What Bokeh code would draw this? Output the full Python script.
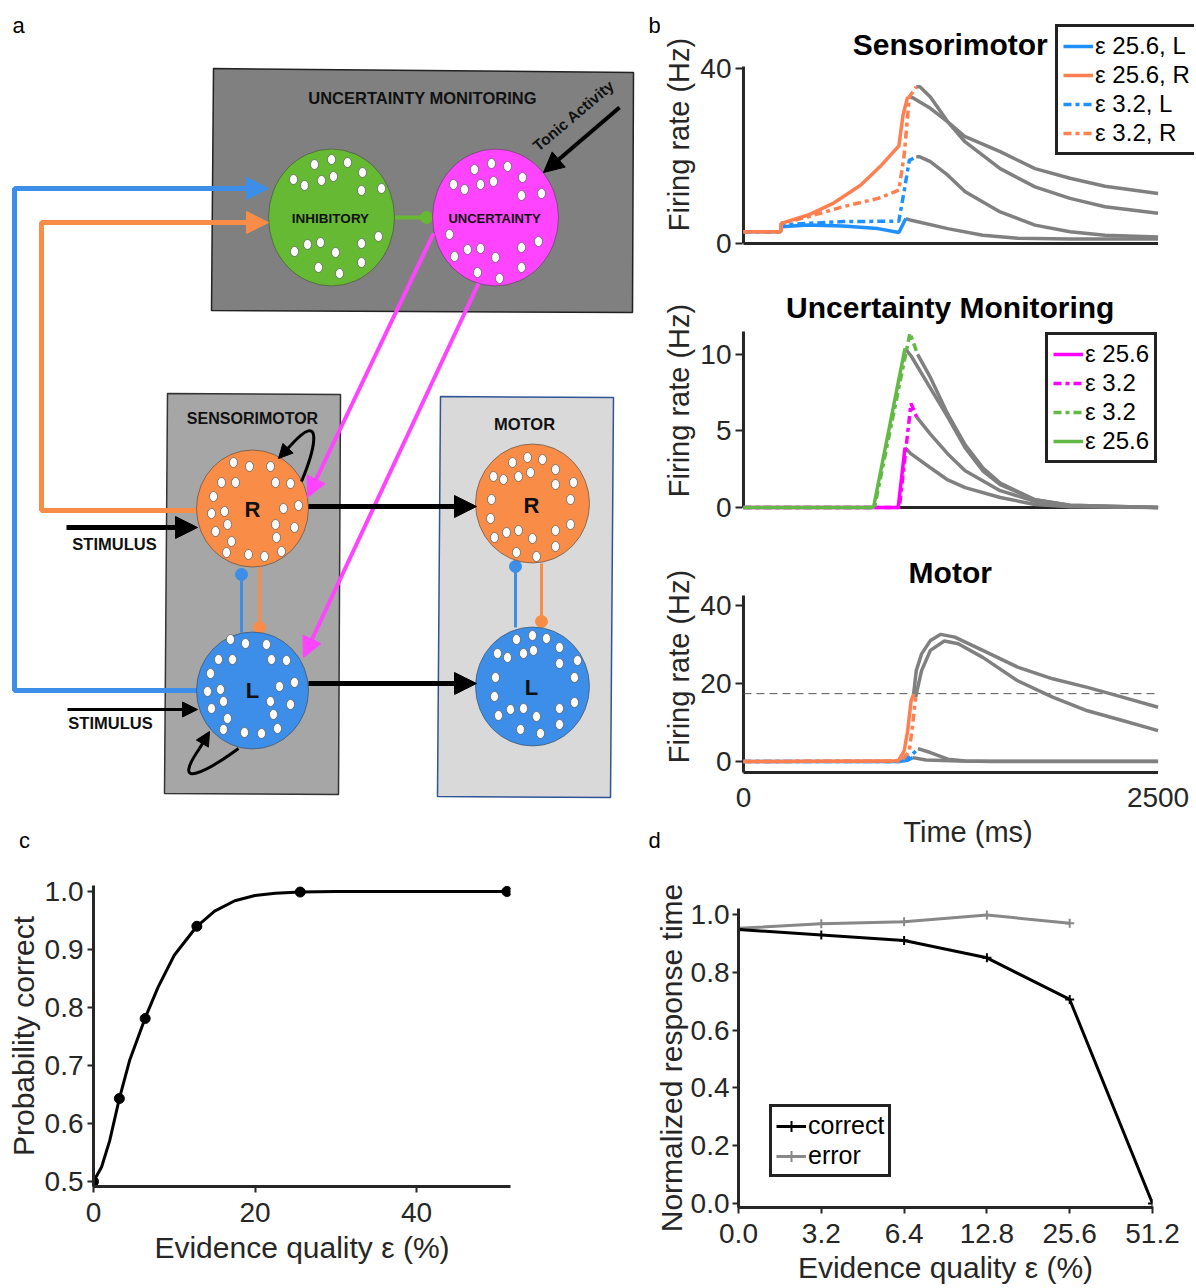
from bokeh.plotting import figure
from bokeh.layouts import row, column
from bokeh.models import (Range1d, Legend, LegendItem, Arrow, NormalHead,
                          FixedTicker, PrintfTickFormatter, ColumnDataSource)
from bokeh.embed import file_html
from bokeh.resources import INLINE
from bokeh.core.properties import value

FONT = "Liberation Sans"
AX = "#262626"

# ---------------- panel b data (time in ms, firing rate in Hz) ----------------
sm_L256_t = [0, 225, 228, 390, 600, 811, 937, 979]
sm_L256_r = [2.7, 2.7, 3.8, 4.2, 4.0, 3.4, 2.5, 5.7]
sm_L256_gt = [979, 1011, 1232, 1443, 1653, 1969, 2500]
sm_L256_gr = [5.7, 5.3, 3.4, 1.9, 1.2, 1.0, 1.0]
sm_R256_t = [0, 225, 228, 390, 537, 706, 832, 937, 962, 990]
sm_R256_r = [2.7, 2.7, 4.6, 6.5, 9.1, 13.3, 17.9, 22.3, 29.3, 33.5]
sm_R256_gt = [990, 1021, 1127, 1232, 1337, 1548, 1758, 1969, 2180, 2500]
sm_R256_gr = [33.5, 33.3, 30.9, 27.8, 24.4, 21.0, 17.1, 14.9, 13.1, 11.4]
sm_L32_t = [0, 225, 228, 390, 600, 937, 969, 1000, 1042]
sm_L32_r = [2.7, 2.7, 4.2, 4.6, 5.0, 5.1, 12.0, 19.0, 19.8]
sm_L32_gt = [1042, 1064, 1127, 1232, 1337, 1548, 1758, 1969, 2180, 2500]
sm_L32_gr = [19.8, 19.8, 18.7, 15.6, 11.8, 7.2, 4.2, 2.7, 1.9, 1.5]
sm_R32_t = [0, 225, 228, 390, 600, 811, 937, 969, 1000, 1042]
sm_R32_r = [2.7, 2.7, 4.6, 6.1, 8.4, 10.3, 12.2, 20.2, 33.5, 35.8]
sm_R32_gt = [1042, 1064, 1127, 1232, 1337, 1548, 1758, 1969, 2180, 2500]
sm_R32_gr = [35.8, 35.8, 33.5, 27.8, 23.2, 17.1, 12.95, 10.3, 8.4, 6.9]

um_M256_t = [0, 933, 974]
um_M256_r = [0, 0, 3.9]
um_M256_gt = [974, 1011, 1127, 1232, 1337, 1548, 1758, 1969, 2500]
um_M256_gr = [3.9, 3.5, 2.6, 1.8, 1.3, 0.65, 0.2, 0.05, 0]
um_M32_t = [0, 940, 1010, 1045]
um_M32_r = [0, 0, 6.8, 5.9]
um_M32_gt = [1045, 1127, 1232, 1337, 1548, 1758, 1969, 2500]
um_M32_gr = [5.9, 4.8, 3.5, 2.4, 1.1, 0.4, 0.1, 0]
um_G32_t = [0, 790, 1004, 1050]
um_G32_r = [0, 0, 11.4, 10.0]
um_G32_gt = [1050, 1127, 1232, 1337, 1443, 1548, 1758, 1969, 2500]
um_G32_gr = [10.0, 8.5, 6.1, 4.1, 2.6, 1.6, 0.5, 0.15, 0]
um_G256_t = [0, 784, 974]
um_G256_r = [0, 0, 10.4]
um_G256_gt = [974, 1011, 1127, 1232, 1337, 1443, 1548, 1758, 1969, 2500]
um_G256_gr = [10.4, 9.9, 7.8, 5.9, 3.9, 2.4, 1.5, 0.5, 0.15, 0]

mo_L256_t = [0, 937, 990, 1011, 1021]
mo_L256_r = [0, 0, 0.3, 0.8, 1.0]
mo_L256_gt = [1021, 1100, 1300, 2500]
mo_L256_gr = [1.0, 0.4, 0.1, 0.05]
mo_R256_t = [0, 900, 937, 969, 990, 1011, 1026]
mo_R256_r = [0, 0.1, 0.35, 2.7, 7.9, 15.6, 17.3]
mo_R256_gt = [1026, 1042, 1074, 1127, 1190, 1274, 1443, 1653, 1864, 2074, 2285, 2500]
mo_R256_gr = [17.3, 23.3, 27.6, 31.0, 32.6, 31.9, 28.5, 24.2, 21.2, 19.0, 16.5, 13.9]
mo_L32_t = [0, 958, 1011, 1052]
mo_L32_r = [0, 0, 1.5, 3.3]
mo_L32_gt = [1052, 1127, 1232, 1337, 1500, 2500]
mo_L32_gr = [3.3, 2.3, 0.6, 0.1, 0.0, 0.0]
mo_R32_t = [0, 930, 958, 1000, 1021, 1038]
mo_R32_r = [0, 0.1, 0.35, 2.7, 9.6, 16.5]
mo_R32_gt = [1038, 1042, 1074, 1127, 1211, 1295, 1443, 1653, 1864, 2074, 2285, 2500]
mo_R32_gr = [16.5, 17.3, 23.3, 28.5, 30.9, 30.2, 26.7, 20.7, 16.5, 13.0, 10.5, 7.9]
motor_threshold = 17.4

t_max = 2500
b1_ytop, b2_ytop, b3_ytop = 40.46, 11.5, 42.56
b3_xaxis_y = -2.8

# ---------------- panel c data ----------------
eps_c = [0, 3.2, 6.4, 12.8, 25.6, 51.2]
p_correct = [0.5, 0.643, 0.781, 0.940, 0.999, 1.0]
fit_eps = [0, 1, 2, 3.2, 4.5, 6.4, 8, 10, 12.8, 15, 17.5, 20, 22.5, 25.6, 30, 51.2]
fit_p = [0.5, 0.525, 0.57, 0.643, 0.71, 0.782, 0.835, 0.89, 0.940, 0.966, 0.984, 0.993,
         0.997, 0.999, 1.0, 1.0]

# ---------------- panel d data ----------------
d_labels = ["0.0", "3.2", "6.4", "12.8", "25.6", "51.2"]
d_pos = [0, 1, 2, 3, 4, 5]
rt_correct = [0.948, 0.929, 0.910, 0.850, 0.706, 0.0]
rt_error = [0.952, 0.968, 0.975, 0.998, 0.970]

# ---------------- panel a (diagram, in screen-pixel layout units) ----------------
C_BLUE = "#3C8EE8"
C_ORANGE = "#F98D48"
C_MAG = "#FF44FF"
C_GREEN = "#66B933"

box_xs = [[213, 633, 632, 211], [167, 340, 338, 164], [440, 613, 610, 437]]
box_ys = [[68, 72, 312, 310], [393, 394, 794, 793], [396, 397, 797, 796]]
box_fill = ["#808080", "#A6A6A6", "#D9D9D9"]
box_line = ["#222222", "#333333", "#2F5597"]

pop_x = [331, 495, 252, 252, 532, 532]
pop_y = [217, 217, 508, 690, 503, 686]
pop_w = [126, 126, 112, 112, 114, 114]
pop_h = [137, 137, 117, 117, 119, 119]
pop_fill = [C_GREEN, C_MAG, C_ORANGE, C_BLUE, C_ORANGE, C_BLUE]

dot_x = [314, 331, 347, 362, 293, 304, 321, 333, 361, 381, 378, 361, 320, 307, 294, 335, 361, 318, 339,
         474, 491, 507, 522, 453, 464, 480, 493, 521, 541, 449, 538, 521, 467, 480, 454, 495, 521, 477, 499,
         233, 249, 270, 221, 235, 275, 290, 213, 298, 283, 211, 224, 227, 275, 294, 215, 276, 231, 226, 248, 264, 281,
         230, 245, 266, 218, 232, 271, 286, 210, 294, 279, 207, 220, 223, 270, 290, 211, 273, 227, 223, 244, 261, 277,
         512, 527, 542, 555, 493, 503, 518, 530, 555, 573, 491, 570, 490, 570, 555, 506, 518, 532, 494, 555, 516, 536,
         516, 532, 546, 559, 497, 507, 523, 533, 559, 577, 495, 574, 494, 574, 559, 510, 523, 536, 498, 559, 520, 540]
dot_y = [164, 159, 162, 172, 179, 185, 180, 176, 190, 188, 236, 243, 242, 244, 251, 252, 262, 267, 273,
         169, 163, 166, 177, 184, 189, 184, 181, 195, 193, 234, 241, 247, 249, 248, 256, 257, 267, 272, 278,
         462, 466, 466, 482, 482, 482, 483, 496, 505, 508, 513, 511, 524, 524, 527, 531, 537, 541, 552, 554, 556, 551,
         639, 643, 644, 659, 659, 659, 660, 673, 682, 686, 691, 689, 701, 701, 704, 708, 714, 718, 729, 732, 733, 728,
         462, 457, 459, 469, 476, 479, 476, 472, 484, 482, 499, 499, 518, 524, 530, 532, 530, 538, 537, 546, 552, 556,
         639, 635, 638, 647, 653, 657, 653, 650, 663, 660, 677, 677, 696, 702, 708, 709, 708, 716, 715, 724, 729, 733]

fb_xs = [[197, 14, 14, 245], [197, 41, 41, 245]]
fb_ys = [[690, 690, 188, 188], [510, 510, 222, 222]]
fb_col = [C_BLUE, C_ORANGE]

arr_x0 = [240, 240, 433, 478, 308, 308, 66, 67, 619, 291, 199]
arr_y0 = [188, 222, 233, 283, 506, 683, 527, 709, 107, 444, 748]
arr_x1 = [268, 268, 307, 303, 476, 476, 197, 197, 543, 278, 209]
arr_y1 = [188, 222, 497, 657, 506, 683, 527, 709, 172, 458, 731]
arr_col = [C_BLUE, C_ORANGE, C_MAG, C_MAG, "black", "black", "black", "black", "black", "black", "black"]
arr_lw = [5, 5, 4, 4, 5, 5, 5, 3, 4, 3, 3]
arr_head = [22, 22, 20, 20, 22, 22, 22, 15, 20, 14, 14]

inh_col = [C_GREEN, C_BLUE, C_ORANGE, C_BLUE, C_ORANGE]

lbl_text = ["UNCERTAINTY MONITORING", "INHIBITORY", "UNCERTAINTY", "SENSORIMOTOR", "MOTOR",
            "R", "L", "R", "L", "STIMULUS", "STIMULUS", "Tonic Activity"]
lbl_x = [422, 330, 494, 252, 524, 252, 252, 531, 531, 114, 110, 573]
lbl_y = [97, 218, 218, 418, 423, 509, 690, 505, 687, 543, 722, 115]
lbl_size = ["16.5px", "13.5px", "13px", "16px", "16.5px", "22px", "22px", "22px", "22px",
            "16.5px", "16.5px", "15.5px"]
lbl_angle = [0, 0, 0, 0, 0, 0, 0, 0, 0, 0, 0, 0.70]

letter_text = ["a", "c", "b", "d"]
letter_x = [18, 24, 654, 654]
letter_y = [25, 840, 25, 840]


def no_align(p):
    try:
        p.frame_align = False
    except Exception:
        pass


pa = figure(width=660, height=853, x_range=Range1d(0, 660), y_range=Range1d(853, 0),
            x_axis_type=None, y_axis_type=None, output_backend="svg", toolbar_location=None,
            min_border=0)
pa.grid.visible = False
pa.outline_line_color = None
no_align(pa)

pa.patches(box_xs, box_ys, fill_color=box_fill, line_color=box_line, line_width=1.5)
pa.multi_line(fb_xs, fb_ys, line_color=fb_col, line_width=5)
pa.segment(x0=[394], y0=[217], x1=[426], y1=[217], line_color=C_GREEN, line_width=4)
pa.segment(x0=[241, 259, 515, 541], y0=[632, 567, 627, 563], x1=[241, 259, 515, 541],
           y1=[574, 627, 566, 621], line_color=inh_col[1:], line_width=3)
pa.scatter(x=[426, 241, 259, 515, 541], y=[217, 574, 627, 566, 621], size=12,
           fill_color=inh_col, line_color=inh_col)
pa.ellipse(x=pop_x, y=pop_y, width=pop_w, height=pop_h, fill_color=pop_fill,
           line_color="#444444", line_alpha=0.6, line_width=1)
pa.ellipse(x=dot_x, y=dot_y, width=8, height=10, fill_color="white", line_color="#555555",
           line_width=0.7)
pa.bezier(x0=[301, 238], y0=[481, 748], x1=[291, 199], y1=[444, 748],
          cx0=[316, 205], cy0=[445, 772], cx1=[322, 170], cy1=[410, 790],
          line_color="black", line_width=3)
for i in range(len(arr_x0)):
    pa.add_layout(Arrow(end=NormalHead(size=arr_head[i], fill_color=arr_col[i],
                                       line_color=arr_col[i], line_width=1),
                        x_start=arr_x0[i], y_start=arr_y0[i], x_end=arr_x1[i], y_end=arr_y1[i],
                        line_color=arr_col[i], line_width=arr_lw[i]))
src_lbl = ColumnDataSource(dict(x=lbl_x, y=lbl_y, t=lbl_text, s=lbl_size, a=lbl_angle))
pa.text(x="x", y="y", text="t", text_font_size="s", angle="a", source=src_lbl,
        text_font=value(FONT), text_font_style="bold", text_color="#111111",
        text_align="center", text_baseline="middle")
pa.text(x=letter_x, y=letter_y, text=letter_text, text_font=value(FONT), text_font_size="22px",
        text_color="black", text_align="center", text_baseline="middle")


# ---------------- helpers ----------------
def base_fig(w, h, xr, yr, ml, mr, mt, mb, tick=28, lab=29):
    p = figure(width=w, height=h, x_range=Range1d(*xr), y_range=Range1d(*yr),
               output_backend="svg", toolbar_location=None,
               min_border_left=ml, min_border_right=mr, min_border_top=mt, min_border_bottom=mb)
    no_align(p)
    p.grid.visible = False
    p.outline_line_color = None
    for ax in p.axis:
        ax.axis_line_width = 3
        ax.axis_line_color = AX
        ax.major_tick_line_width = 2
        ax.major_tick_line_color = AX
        ax.major_tick_out = 6
        ax.major_tick_in = 1
        ax.minor_tick_line_color = None
        ax.major_label_text_font = FONT
        ax.major_label_text_font_size = "%dpx" % tick
        ax.major_label_text_color = AX
        ax.axis_label_text_font = FONT
        ax.axis_label_text_font_size = "%dpx" % lab
        ax.axis_label_text_font_style = "normal"
        ax.axis_label_text_color = AX
    return p


B_BLUE = "#1E90FF"
B_ORANGE = "#FF7F50"
B_MAG = "#FF00FF"
B_GREEN = "#64B946"
GREY = "#808080"
DASH = "8 4 4 4"
LW = 3.5


def add_title(p, x, y, text):
    p.text(x=[x], y=[y], text=[text], text_font=value(FONT), text_font_size="30px",
           text_font_style="bold", text_color="black", text_align="center",
           text_baseline="middle")


def make_legend(p, items, loc):
    lg = Legend(items=items, location=loc, label_text_font=FONT, label_text_font_size="24px",
                label_text_color="black", glyph_width=30, glyph_height=28, label_height=28,
                label_standoff=2, padding=5, spacing=1, margin=0,
                border_line_color="#222222", border_line_width=3, border_line_alpha=1,
                background_fill_alpha=1)
    p.add_layout(lg, "center")


def b_yaxis(p, ticks):
    p.xaxis.visible = False
    p.yaxis.ticker = FixedTicker(ticks=ticks)
    p.yaxis.axis_line_color = None
    p.yaxis.axis_label = "Firing rate (Hz)"
    p.yaxis.major_label_standoff = 4
    p.yaxis.axis_label_standoff = 2


# frame: x from 734 to 1194 px; 0 ms at 736 px, 2500 ms at 1157 px
BX = (-11.9, 2719.7)

# ---------------- b1 sensorimotor ----------------
b1 = base_fig(534, 280, BX, (-0.69, 50.51), 74, 0, 22, 34)
b_yaxis(b1, [0, 40])
b1.segment(x0=[0, 0], y0=[0, 0], x1=[0, t_max], y1=[b1_ytop, 0], line_color=AX, line_width=3)
for gt, gr in [(sm_L256_gt, sm_L256_gr), (sm_L32_gt, sm_L32_gr), (sm_R32_gt, sm_R32_gr),
               (sm_R256_gt, sm_R256_gr)]:
    b1.line(gt, gr, line_color=GREY, line_width=LW)
r_b1_L256 = b1.line(sm_L256_t, sm_L256_r, line_color=B_BLUE, line_width=LW)
r_b1_L32 = b1.line(sm_L32_t, sm_L32_r, line_color=B_BLUE, line_width=LW, line_dash=DASH)
r_b1_R32 = b1.line(sm_R32_t, sm_R32_r, line_color=B_ORANGE, line_width=LW, line_dash=DASH)
r_b1_R256 = b1.line(sm_R256_t, sm_R256_r, line_color=B_ORANGE, line_width=LW)
add_title(b1, 1247, 45.49, "Sensorimotor")
make_legend(b1, [LegendItem(label="ε 25.6, L", renderers=[r_b1_L256]),
                 LegendItem(label="ε 25.6, R", renderers=[r_b1_R256]),
                 LegendItem(label="ε 3.2, L", renderers=[r_b1_L32]),
                 LegendItem(label="ε 3.2, R", renderers=[r_b1_R32])], (314, 91))

# ---------------- b2 uncertainty monitoring ----------------
b2 = base_fig(534, 265, BX, (-0.196, 14.18), 74, 0, 10, 35)
b_yaxis(b2, [0, 5, 10])
b2.segment(x0=[0, 0], y0=[0, 0], x1=[0, t_max], y1=[b2_ytop, 0], line_color=AX, line_width=3)
for gt, gr in [(um_M256_gt, um_M256_gr), (um_M32_gt, um_M32_gr), (um_G256_gt, um_G256_gr),
               (um_G32_gt, um_G32_gr)]:
    b2.line(gt, gr, line_color=GREY, line_width=LW)
r_b2_M256 = b2.line(um_M256_t, um_M256_r, line_color=B_MAG, line_width=LW)
r_b2_M32 = b2.line(um_M32_t, um_M32_r, line_color=B_MAG, line_width=LW, line_dash=DASH)
r_b2_G32 = b2.line(um_G32_t, um_G32_r, line_color=B_GREEN, line_width=LW, line_dash=DASH)
r_b2_G256 = b2.line(um_G256_t, um_G256_r, line_color=B_GREEN, line_width=LW)
add_title(b2, 1247, 13.07, "Uncertainty Monitoring")
make_legend(b2, [LegendItem(label="ε 25.6", renderers=[r_b2_M256]),
                 LegendItem(label="ε 3.2", renderers=[r_b2_M32]),
                 LegendItem(label="ε 3.2", renderers=[r_b2_G32]),
                 LegendItem(label="ε 25.6", renderers=[r_b2_G256])], (304, 47))

# ---------------- b3 motor ----------------
b3 = base_fig(534, 308, BX, (-3.59, 52.31), 74, 0, 12, 78)
b3.yaxis.ticker = FixedTicker(ticks=[0, 20, 40])
b3.yaxis.axis_line_color = None
b3.yaxis.axis_label = "Firing rate (Hz)"
b3.yaxis.major_label_standoff = 4
b3.yaxis.axis_label_standoff = 2
b3.xaxis.ticker = FixedTicker(ticks=[0, t_max])
b3.xaxis.axis_line_color = None
b3.xaxis.major_tick_line_color = None
b3.xaxis.major_tick_out = 0
b3.xaxis.major_tick_in = 0
b3.xaxis.major_label_standoff = 12
b3.xaxis.axis_label = "Time (ms)"
b3.xaxis.axis_label_standoff = 6
b3.segment(x0=[0, 0], y0=[b3_xaxis_y, b3_xaxis_y], x1=[0, t_max], y1=[b3_ytop, b3_xaxis_y],
           line_color=AX, line_width=3)
b3.segment(x0=[0], y0=[motor_threshold], x1=[t_max], y1=[motor_threshold],
           line_color="#555555", line_width=1, line_dash="8 5")
for gt, gr in [(mo_L256_gt, mo_L256_gr), (mo_L32_gt, mo_L32_gr), (mo_R32_gt, mo_R32_gr),
               (mo_R256_gt, mo_R256_gr)]:
    b3.line(gt, gr, line_color=GREY, line_width=LW)
b3.line(mo_L256_t, mo_L256_r, line_color=B_BLUE, line_width=LW)
b3.line(mo_L32_t, mo_L32_r, line_color=B_BLUE, line_width=LW, line_dash=DASH)
b3.line(mo_R32_t, mo_R32_r, line_color=B_ORANGE, line_width=LW, line_dash=DASH)
b3.line(mo_R256_t, mo_R256_r, line_color=B_ORANGE, line_width=LW)
add_title(b3, 1247, 48.46, "Motor")

# ---------------- c ----------------
pc = base_fig(640, 433, (0, 51.64), (0.4914, 1.0103), 93, 130, 32, 100, tick=28, lab=30)
pc.xaxis.ticker = FixedTicker(ticks=[0, 20, 40])
pc.yaxis.ticker = FixedTicker(ticks=[0.5, 0.6, 0.7, 0.8, 0.9, 1.0])
pc.yaxis.formatter = PrintfTickFormatter(format="%.1f")
pc.xaxis.axis_label = "Evidence quality ε (%)"
pc.yaxis.axis_label = "Probability correct"
pc.xaxis.major_label_standoff = 10
pc.xaxis.axis_label_standoff = 6
pc.yaxis.major_label_standoff = 4
pc.yaxis.axis_label_standoff = 2
pc.line(fit_eps, fit_p, line_color="black", line_width=3)
pc.scatter(eps_c, p_correct, size=10, fill_color="black", line_color="black")

# ---------------- d ----------------
pd_ = base_fig(554, 433, (0, 5), (-0.0138, 1.0207), 98, 42, 55, 78, tick=28, lab=30)
pd_.xaxis.ticker = FixedTicker(ticks=d_pos)
pd_.xaxis.major_label_overrides = {i: s for i, s in zip(d_pos, d_labels)}
pd_.yaxis.ticker = FixedTicker(ticks=[0.0, 0.2, 0.4, 0.6, 0.8, 1.0])
pd_.yaxis.formatter = PrintfTickFormatter(format="%.1f")
pd_.xaxis.axis_label = "Evidence quality ε (%)"
pd_.yaxis.axis_label = "Normalized response time"
pd_.xaxis.major_label_standoff = 10
pd_.xaxis.axis_label_standoff = 5
pd_.yaxis.major_label_standoff = 3
pd_.yaxis.axis_label_standoff = 0
e_pos = d_pos[:len(rt_error)]
r_err_line = pd_.line(e_pos, rt_error, line_color="#888888", line_width=3)
r_err_bar = pd_.scatter(e_pos, rt_error, marker="cross", size=9,
                        line_color="#888888", line_width=2)
r_cor_line = pd_.line(d_pos, rt_correct, line_color="black", line_width=3)
r_cor_bar = pd_.scatter(d_pos, rt_correct, marker="cross", size=9,
                        line_color="black", line_width=2)
lg_d = Legend(items=[LegendItem(label="correct", renderers=[r_cor_line, r_cor_bar]),
                     LegendItem(label="error", renderers=[r_err_line, r_err_bar])],
              location=(31, 30), label_text_font=FONT, label_text_font_size="25px",
              label_text_color="black", glyph_width=30, glyph_height=28, label_height=28,
              label_standoff=2, padding=4, spacing=1, margin=0,
              border_line_color="#222222", border_line_width=3, border_line_alpha=1,
              background_fill_alpha=1)
pd_.add_layout(lg_d, "center")

layout = column(row(pa, column(b1, b2, b3)), row(pc, pd_))
open("out.html", "w").write(file_html(layout, INLINE))
